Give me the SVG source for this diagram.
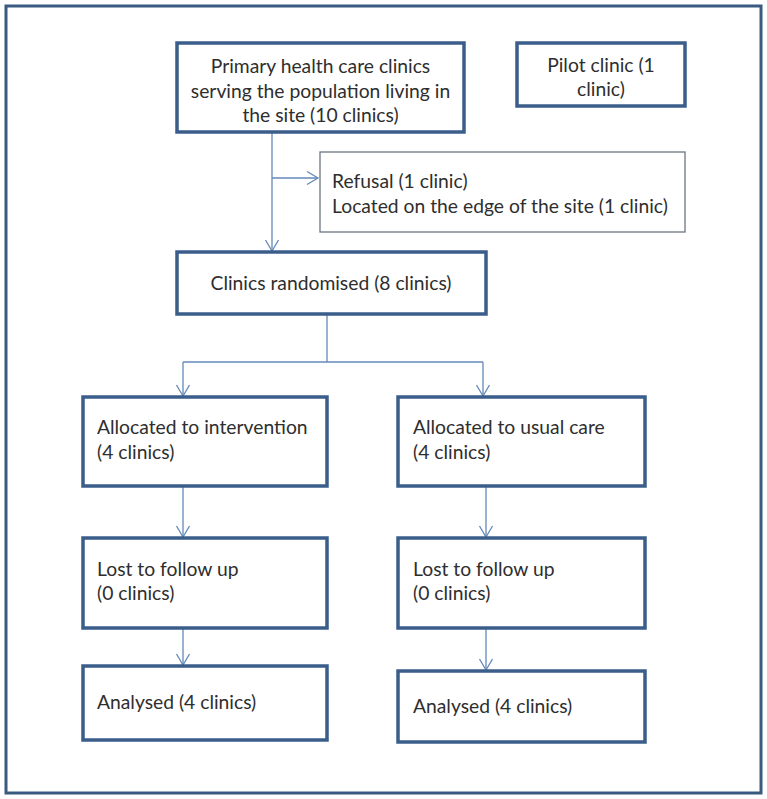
<svg xmlns="http://www.w3.org/2000/svg" width="767" height="799" viewBox="0 0 767 799">
<defs>
<style>
.frame{fill:#fff;stroke:#3b5a82;stroke-width:3}
.box{fill:#fff;stroke:#3a5d8a;stroke-width:3.5}
.thin{fill:#fff;stroke:#6d7680;stroke-width:1.3}
.con{fill:none;stroke:#6389b8;stroke-width:1.3}
text{font-family:Lato,"Liberation Sans",sans-serif;font-size:19.3px;fill:#2e2e2e}
.c{text-anchor:middle}
</style>
<marker id="arr" markerUnits="userSpaceOnUse" markerWidth="14" markerHeight="16" viewBox="0 0 14 16" refX="12" refY="8" orient="auto">
<path d="M1,1.5 L12,8 L1,14.5" fill="none" stroke="#6389b8" stroke-width="1.3"/>
</marker>
</defs>
<rect width="767" height="799" fill="#fff"/>
<rect class="frame" x="6" y="6" width="755" height="787"/>
<g id="connectors">
<line class="con" x1="272" y1="132" x2="272" y2="251" marker-end="url(#arr)"/>
<line class="con" x1="272" y1="178" x2="318" y2="178" marker-end="url(#arr)"/>
<polyline class="con" points="327,314 327,362"/>
<line class="con" x1="183" y1="362" x2="483" y2="362"/>
<line class="con" x1="183" y1="362" x2="183" y2="396" marker-end="url(#arr)"/>
<line class="con" x1="483" y1="362" x2="483" y2="396" marker-end="url(#arr)"/>
<line class="con" x1="183" y1="486" x2="183" y2="537" marker-end="url(#arr)"/>
<line class="con" x1="486" y1="486" x2="486" y2="537" marker-end="url(#arr)"/>
<line class="con" x1="183" y1="628" x2="183" y2="665" marker-end="url(#arr)"/>
<line class="con" x1="486" y1="628" x2="486" y2="670" marker-end="url(#arr)"/>
</g>
<g id="primary">
<rect class="box" x="177" y="43" width="287" height="89"/>
<text class="c" x="320.5" y="73">Primary health care clinics</text>
<text class="c" x="320.5" y="97.5">serving the population living in</text>
<text class="c" x="320.5" y="122">the site (10 clinics)</text>
</g>
<g id="pilot">
<rect class="box" x="517" y="43" width="168" height="63"/>
<text class="c" x="601" y="72">Pilot clinic (1</text>
<text class="c" x="601" y="96">clinic)</text>
</g>
<g id="excluded">
<rect class="thin" x="320" y="152" width="365" height="80"/>
<text x="332" y="188">Refusal (1 clinic)</text>
<text x="332" y="213">Located on the edge of the site (1 clinic)</text>
</g>
<g id="randomised">
<rect class="box" x="177" y="252" width="309" height="62"/>
<text class="c" x="331" y="290">Clinics randomised (8 clinics)</text>
</g>
<g id="alloc-int">
<rect class="box" x="83" y="397" width="244" height="89"/>
<text x="97" y="434">Allocated to intervention</text>
<text x="97" y="459">(4 clinics)</text>
</g>
<g id="alloc-usual">
<rect class="box" x="398" y="397" width="247" height="89"/>
<text x="413" y="434">Allocated to usual care</text>
<text x="413" y="459">(4 clinics)</text>
</g>
<g id="lost-int">
<rect class="box" x="83" y="538" width="244" height="90"/>
<text x="97" y="576">Lost to follow up</text>
<text x="97" y="600">(0 clinics)</text>
</g>
<g id="lost-usual">
<rect class="box" x="398" y="538" width="247" height="90"/>
<text x="413" y="576">Lost to follow up</text>
<text x="413" y="600">(0 clinics)</text>
</g>
<g id="analysed-int">
<rect class="box" x="83" y="666" width="244" height="74"/>
<text x="97" y="709">Analysed (4 clinics)</text>
</g>
<g id="analysed-usual">
<rect class="box" x="398" y="671" width="247" height="71"/>
<text x="413" y="713">Analysed (4 clinics)</text>
</g>
</svg>
